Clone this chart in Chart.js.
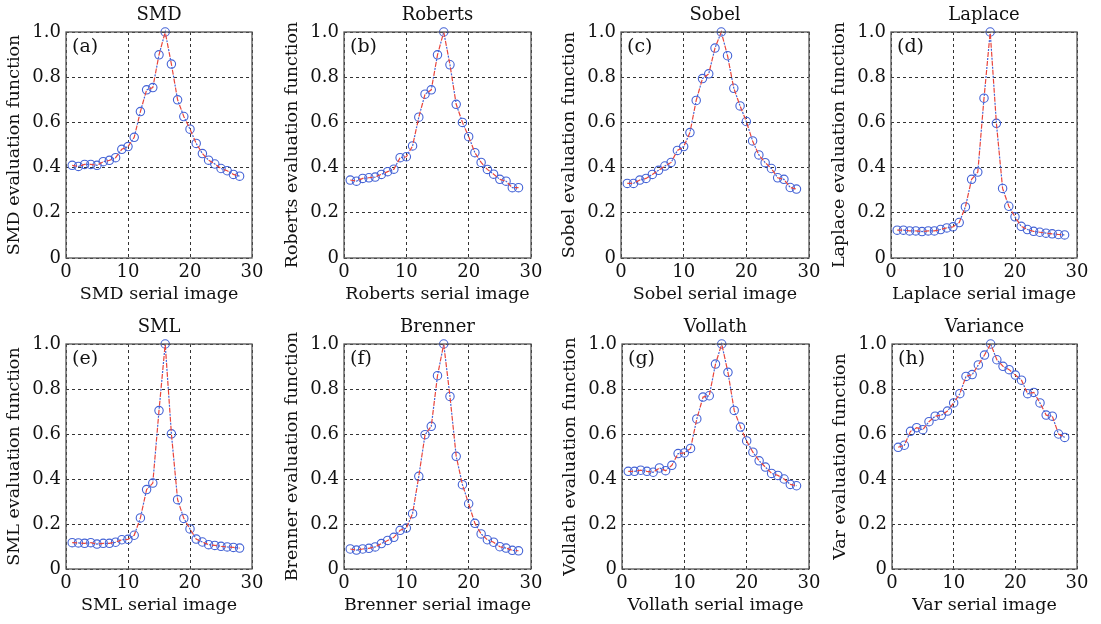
<!DOCTYPE html>
<html>
<head>
    <meta charset="UTF-8">
    <title>Focus evaluation functions</title>
    <script src="https://cdn.jsdelivr.net/npm/chart.js"></script>
    <style>
        body {
            margin: 0;
            background: #ffffff;
            width: 1101px;
            height: 624px;
            overflow: hidden;
        }

        canvas {
            position: absolute;
        }
    </style>
</head>
<body>
    <canvas id="c0"></canvas>
    <canvas id="c1"></canvas>
    <canvas id="c2"></canvas>
    <canvas id="c3"></canvas>
    <canvas id="c4"></canvas>
    <canvas id="c5"></canvas>
    <canvas id="c6"></canvas>
    <canvas id="c7"></canvas>

    <script>
        // serial image index (x axis)
        var serial = [1, 2, 3, 4, 5, 6, 7, 8, 9, 10, 11, 12, 13, 14, 15, 16, 17, 18, 19, 20, 21, 22, 23, 24, 25, 26, 27, 28];

        // normalised evaluation function values
        var smd = [0.41, 0.405, 0.414, 0.414, 0.41, 0.426, 0.432, 0.444, 0.481, 0.493, 0.534, 0.648, 0.744, 0.754,
            0.899, 1.0, 0.858, 0.70, 0.626, 0.57, 0.507, 0.462, 0.433, 0.416, 0.396, 0.386, 0.37, 0.362];
        var roberts = [0.345, 0.34, 0.352, 0.355, 0.358, 0.37, 0.382, 0.393, 0.444, 0.448, 0.496, 0.623, 0.725, 0.744,
            0.899, 1.0, 0.855, 0.68, 0.60, 0.537, 0.466, 0.423, 0.392, 0.371, 0.348, 0.34, 0.311, 0.311];
        var sobel = [0.33, 0.33, 0.345, 0.352, 0.37, 0.388, 0.407, 0.423, 0.476, 0.493, 0.555, 0.697, 0.794, 0.815,
            0.929, 1.0, 0.895, 0.751, 0.673, 0.604, 0.518, 0.456, 0.422, 0.396, 0.355, 0.348, 0.312, 0.305];
        var laplace = [0.123, 0.123, 0.12, 0.12, 0.117, 0.12, 0.12, 0.126, 0.133, 0.138, 0.157, 0.226, 0.348, 0.38,
            0.707, 1.0, 0.596, 0.308, 0.229, 0.182, 0.14, 0.126, 0.118, 0.114, 0.11, 0.107, 0.104, 0.102];
        var sml = [0.117, 0.116, 0.114, 0.117, 0.111, 0.114, 0.114, 0.119, 0.13, 0.132, 0.15, 0.227, 0.353, 0.382,
            0.704, 1.0, 0.601, 0.308, 0.225, 0.178, 0.133, 0.12, 0.108, 0.105, 0.101, 0.098, 0.096, 0.093];
        var brenner = [0.089, 0.084, 0.089, 0.092, 0.098, 0.113, 0.127, 0.141, 0.172, 0.182, 0.246, 0.412, 0.597, 0.634,
            0.859, 1.0, 0.767, 0.501, 0.375, 0.29, 0.203, 0.156, 0.13, 0.119, 0.099, 0.093, 0.083, 0.081];
        var vollath = [0.434, 0.434, 0.439, 0.434, 0.43, 0.449, 0.437, 0.461, 0.513, 0.516, 0.536, 0.667, 0.764, 0.77,
            0.911, 1.0, 0.874, 0.705, 0.631, 0.569, 0.519, 0.481, 0.453, 0.425, 0.416, 0.4, 0.376, 0.37];
        var variance = [0.541, 0.55, 0.612, 0.628, 0.619, 0.655, 0.679, 0.683, 0.702, 0.738, 0.779, 0.856, 0.864, 0.907,
            0.951, 1.0, 0.93, 0.901, 0.886, 0.862, 0.839, 0.779, 0.785, 0.738, 0.684, 0.679, 0.6, 0.585];

        var titles = ['SMD', 'Roberts', 'Sobel', 'Laplace', 'SML', 'Brenner', 'Vollath', 'Variance'];
        var shortNames = ['SMD', 'Roberts', 'Sobel', 'Laplace', 'SML', 'Brenner', 'Vollath', 'Var'];
        var letters = ['(a)', '(b)', '(c)', '(d)', '(e)', '(f)', '(g)', '(h)'];
        var series = [smd, roberts, sobel, laplace, sml, brenner, vollath, variance];

        // plot area of every panel on the page: left, top, right, bottom
        var boxes = [
            [66, 32, 252, 258], [344, 32, 531, 258], [621, 32, 809, 258], [891, 32, 1077, 258],
            [66, 344, 252, 569], [344, 344, 531, 569], [622, 344, 809, 569], [892, 344, 1077, 569]
        ];

        var FONT = "'DejaVu Serif', 'Liberation Serif', serif";
        var Y_AXIS_W = 66, TITLE_H = 32, X_AXIS_H = 54, RIGHT_PAD = 20;

        Chart.defaults.font.family = FONT;
        Chart.defaults.color = '#111';

        // frame around the plot area plus the panel letter
        var framePlugin = {
            id: 'frame',
            afterDraw: function (chart, args, opts) {
                var a = chart.chartArea;
                var ctx = chart.ctx;
                ctx.save();
                ctx.strokeStyle = '#555';
                ctx.lineWidth = 1.3;
                ctx.strokeRect(a.left, a.top, a.right - a.left, a.bottom - a.top);
                ctx.fillStyle = '#111';
                ctx.font = '19px ' + FONT;
                ctx.textBaseline = 'top';
                ctx.fillText(opts.letter, a.left + 6, a.top + 6);
                ctx.restore();
            }
        };

        function makeChart(i) {
            var b = boxes[i];
            var x0 = b[0] - Y_AXIS_W;
            var y0 = b[1] - TITLE_H;
            var w = b[2] - x0 + RIGHT_PAD;
            var h = b[3] - y0 + X_AXIS_H;

            var canvas = document.getElementById('c' + i);
            canvas.width = w;
            canvas.height = h;
            canvas.style.left = x0 + 'px';
            canvas.style.top = y0 + 'px';

            var points = serial.map(function (s, k) {
                return { x: s, y: series[i][k] };
            });

            return new Chart(canvas.getContext('2d'), {
                type: 'line',
                data: {
                    datasets: [{
                        data: points,
                        borderColor: '#e8453c',
                        borderWidth: 1.2,
                        borderDash: [5, 4],
                        pointRadius: 0,
                        clip: 8,
                        fill: false
                    }, {
                        data: points,
                        borderColor: '#4463d6',
                        borderWidth: 1.2,
                        borderDash: [2, 7],
                        borderDashOffset: 3,
                        pointRadius: 4.2,
                        pointBorderWidth: 1.1,
                        pointBorderColor: '#4463d6',
                        pointBackgroundColor: 'rgba(0,0,0,0)',
                        clip: 8,
                        fill: false
                    }]
                },
                options: {
                    responsive: false,
                    animation: false,
                    layout: { padding: { left: 0, top: 0, right: RIGHT_PAD, bottom: 0 } },
                    plugins: {
                        legend: { display: false },
                        tooltip: { enabled: false },
                        title: {
                            display: true,
                            text: titles[i],
                            fullSize: false,
                            color: '#111',
                            font: { size: 18, weight: 'normal', lineHeight: 1.2 },
                            padding: { top: 5, bottom: 5.4 }
                        },
                        frame: { letter: letters[i] }
                    },
                    scales: {
                        x: {
                            type: 'linear',
                            min: 0,
                            max: 30,
                            ticks: { stepSize: 10, padding: 4, font: { size: 18 }, color: '#111' },
                            grid: { color: '#333', lineWidth: 1, drawTicks: false },
                            border: { display: false, dash: [3, 3] },
                            title: {
                                display: true,
                                text: shortNames[i] + ' serial image',
                                color: '#111',
                                font: { size: 17.5 },
                                padding: { top: 0, bottom: 7 }
                            },
                            afterFit: function (scale) {
                                scale.height = X_AXIS_H;
                                scale.paddingLeft = 0;
                                scale.paddingRight = 0;
                            }
                        },
                        y: {
                            min: 0,
                            max: 1,
                            ticks: {
                                stepSize: 0.2,
                                padding: 5,
                                font: { size: 18 },
                                color: '#111',
                                callback: function (v) {
                                    return v === 0 ? '0' : v.toFixed(1);
                                }
                            },
                            grid: { color: '#333', lineWidth: 1, drawTicks: false },
                            border: { display: false, dash: [3, 3] },
                            title: {
                                display: true,
                                text: shortNames[i] + ' evaluation function',
                                color: '#111',
                                font: { size: 17.5 },
                                padding: { top: 4, bottom: 0 }
                            },
                            afterFit: function (scale) {
                                scale.width = Y_AXIS_W;
                                scale.paddingTop = 0;
                                scale.paddingBottom = 0;
                            }
                        }
                    }
                },
                plugins: [framePlugin]
            });
        }

        for (var i = 0; i < 8; i++) {
            makeChart(i);
        }
    </script>
</body>
</html>
